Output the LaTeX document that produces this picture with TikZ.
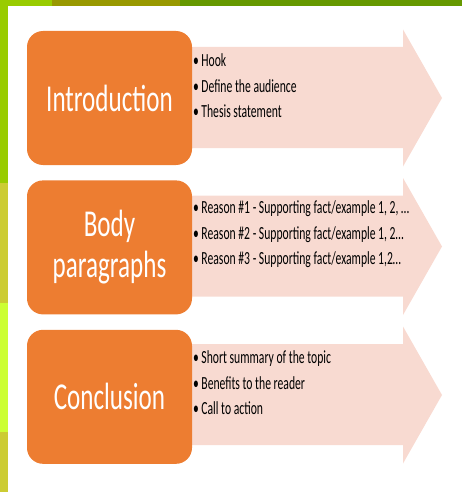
\documentclass[tikz,border=0pt]{standalone}
\usepackage{fontspec}
\setmainfont{Carlito}
\usetikzlibrary{positioning}
\usepackage{xcolor}
\definecolor{boxorange}{HTML}{ED7D31}
\definecolor{arrowpink}{HTML}{F8DAD1}
\definecolor{bargreen}{HTML}{99CC00}
\definecolor{barolive}{HTML}{999900}
\definecolor{bardark}{HTML}{669900}
\definecolor{barmustard}{HTML}{CCCC33}
\definecolor{barlime}{HTML}{CCFF33}

\begin{document}
\begin{tikzpicture}[x=1pt,y=-1pt,node distance=15pt,
		box/.style={fill=boxorange, rounded corners=16pt, minimum width=165pt,
			minimum height=134pt, inner sep=0pt},
		heading/.style={text=white, font=\fontsize{38}{41}\selectfont, xscale=0.66, align=center},
		points/.style={align=left, font=\fontsize{18.5}{25.5}\selectfont, xscale=0.63, inner sep=0pt}]
		\useasboundingbox (0,0) rectangle (462,492);
		% bars
		\fill[bargreen] (0,0) rectangle (52,6);
		\fill[barolive] (52,0) rectangle (180,6);
		\fill[bardark] (180,0) rectangle (462,6);
		\fill[bargreen] (0,0) rectangle (8,183);
		\fill[barmustard] (0,183) rectangle (8,303);
		\fill[barlime] (0,303) rectangle (8,432);
		\fill[barmustard] (0,432) rectangle (8,492);
		% arrows
		\fill[arrowpink] (185,47) -- (403,47) -- (403,29.5) -- (442,98) -- (403,166.5) -- (403,148) -- (185,148) -- cycle;
		\fill[arrowpink] (185,195.5) -- (403,195.5) -- (403,178) -- (442,246.5) -- (403,315) -- (403,296.5) -- (185,296.5) -- cycle;
		\fill[arrowpink] (185,344) -- (403,344) -- (403,326.5) -- (442,395) -- (403,463.5) -- (403,445) -- (185,445) -- cycle;

		\node[box] (intro) at (109.5,98) {};
		\node[box] (body) [below=of intro] {};
		\node[box] (concl) [below=of body] {};

		\node[heading] (introtext) at (intro) {Introduction};
		\node[heading] (bodytext) at (body) {Body\\paragraphs};
		\node[heading] (concltext) at (concl) {Conclusion};

		\node[points, anchor=west] (introlist) at (193,86) {\textbullet\hspace{4pt}Hook\\
			\textbullet\hspace{4pt}Define the audience\\
			\textbullet\hspace{4pt}Thesis statement};
		\node[points, anchor=west] (bodylist) at (193,234.5) {\textbullet\hspace{4pt}Reason \#1 - Supporting fact/example 1, 2, \dots\\
			\textbullet\hspace{4pt}Reason \#2 - Supporting fact/example 1, 2\dots\\
			\textbullet\hspace{4pt}Reason \#3 - Supporting fact/example 1,2\dots};
		\node[points, anchor=west] (concllist) at (193,383) {\textbullet\hspace{4pt}Short summary of the topic\\
			\textbullet\hspace{4pt}Benefits to the reader\\
			\textbullet\hspace{4pt}Call to action};
	\end{tikzpicture}
\end{document}
